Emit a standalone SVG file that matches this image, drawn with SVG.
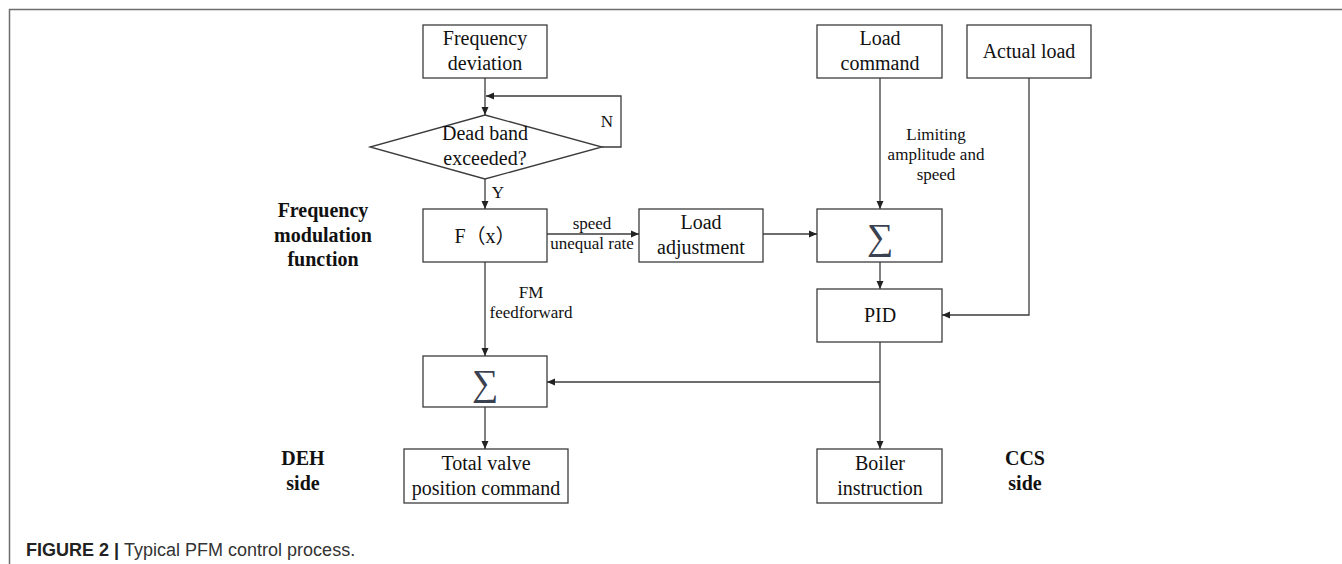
<svg xmlns="http://www.w3.org/2000/svg" width="1342" height="564" viewBox="0 0 1342 564">
<style>
.frame{fill:none;stroke:#6e6e6e;stroke-width:1.5}
.box{fill:#fff;stroke:#3c3c3c;stroke-width:1.3}
.t{font-family:"Liberation Serif","Times New Roman",serif;font-size:20px;fill:#111;text-anchor:middle}
.lbl{font-family:"Liberation Serif","Times New Roman",serif;font-size:17px;fill:#111;text-anchor:middle}
.side{font-family:"Liberation Serif","Times New Roman",serif;font-size:20px;font-weight:bold;fill:#111;text-anchor:middle}
.sig{font-family:"Liberation Serif","DejaVu Serif",serif;font-size:37px;fill:#3a4150;text-anchor:middle}
.fx{font-family:"Liberation Serif","Noto Sans CJK SC",serif;font-size:20px;fill:#111;text-anchor:middle}
.cap{font-family:"Liberation Sans",Arial,sans-serif;font-size:18px;fill:#333}
.conn path{fill:none;stroke:#3c3c3c;stroke-width:1.3;marker-end:url(#ah)}
</style>
<defs>
<marker id="ah" markerUnits="userSpaceOnUse" markerWidth="8" markerHeight="8" refX="8" refY="4" orient="auto">
<path d="M0,0.5 L8,4 L0,7.5 z" fill="#222"/>
</marker>
</defs>
<rect width="1342" height="564" fill="#fff"/>
<path class="frame" d="M1342,9.5 H9.5 V564"/>

<g id="freq-dev"><rect class="box" x="423" y="25" width="124" height="53"/><text class="t" x="485" y="45">Frequency</text><text class="t" x="485" y="70">deviation</text></g>
<g id="dead-band"><polygon class="box" points="485,115 602,147 485,179 370,147"/><text class="t" x="485" y="140">Dead band</text><text class="t" x="485" y="165">exceeded?</text></g>
<g id="fx"><rect class="box" x="423" y="209" width="124" height="53"/><text class="fx" x="485" y="243">F（x）</text></g>
<g id="load-adj"><rect class="box" x="639" y="209" width="124" height="53"/><text class="t" x="701" y="229">Load</text><text class="t" x="701" y="254">adjustment</text></g>
<g id="load-cmd"><rect class="box" x="817" y="25" width="125" height="53"/><text class="t" x="880" y="45">Load</text><text class="t" x="880" y="70">command</text></g>
<g id="actual-load"><rect class="box" x="967" y="25" width="124" height="53"/><text class="t" x="1029" y="58">Actual load</text></g>
<g id="sum1"><rect class="box" x="817" y="209" width="125" height="53"/><text class="sig" x="880" y="249">∑</text></g>
<g id="pid"><rect class="box" x="817" y="289" width="125" height="53"/><text class="t" x="880" y="322">PID</text></g>
<g id="sum2"><rect class="box" x="423" y="356" width="124" height="51"/><text class="sig" x="485" y="395">∑</text></g>
<g id="total-valve"><rect class="box" x="404" y="449" width="164" height="54"/><text class="t" x="486" y="470">Total valve</text><text class="t" x="486" y="495">position command</text></g>
<g id="boiler"><rect class="box" x="817" y="449" width="125" height="54"/><text class="t" x="880" y="470">Boiler</text><text class="t" x="880" y="495">instruction</text></g>

<g class="conn">
<path d="M485,78 V115"/>
<path d="M602,147 H621 V96 H486"/>
<path d="M485,179 V209"/>
<path d="M547,234 H639"/>
<path d="M763,234 H817"/>
<path d="M880,78 V209"/>
<path d="M880,262 V289"/>
<path d="M1029,78 V315 H942"/>
<path d="M880,342 V449"/>
<path d="M880,382 H547"/>
<path d="M485,262 V356"/>
<path d="M485,407 V449"/>
</g>

<g id="labels">
<text class="lbl" x="607" y="127">N</text>
<text class="lbl" x="498" y="198">Y</text>
<text class="lbl" x="592" y="229">speed</text>
<text class="lbl" x="592" y="249">unequal rate</text>
<text class="lbl" x="936" y="140">Limiting</text>
<text class="lbl" x="936" y="160">amplitude and</text>
<text class="lbl" x="936" y="180">speed</text>
<text class="lbl" x="531" y="298">FM</text>
<text class="lbl" x="531" y="318">feedforward</text>
</g>

<g id="side-labels">
<text class="side" x="323" y="217">Frequency</text>
<text class="side" x="323" y="242">modulation</text>
<text class="side" x="323" y="266">function</text>
<text class="side" x="303" y="465">DEH</text>
<text class="side" x="303" y="490">side</text>
<text class="side" x="1025" y="465">CCS</text>
<text class="side" x="1025" y="490">side</text>
</g>

<text class="cap" x="26" y="556"><tspan font-weight="bold" fill="#222">FIGURE 2 | </tspan>Typical PFM control process.</text>
</svg>
